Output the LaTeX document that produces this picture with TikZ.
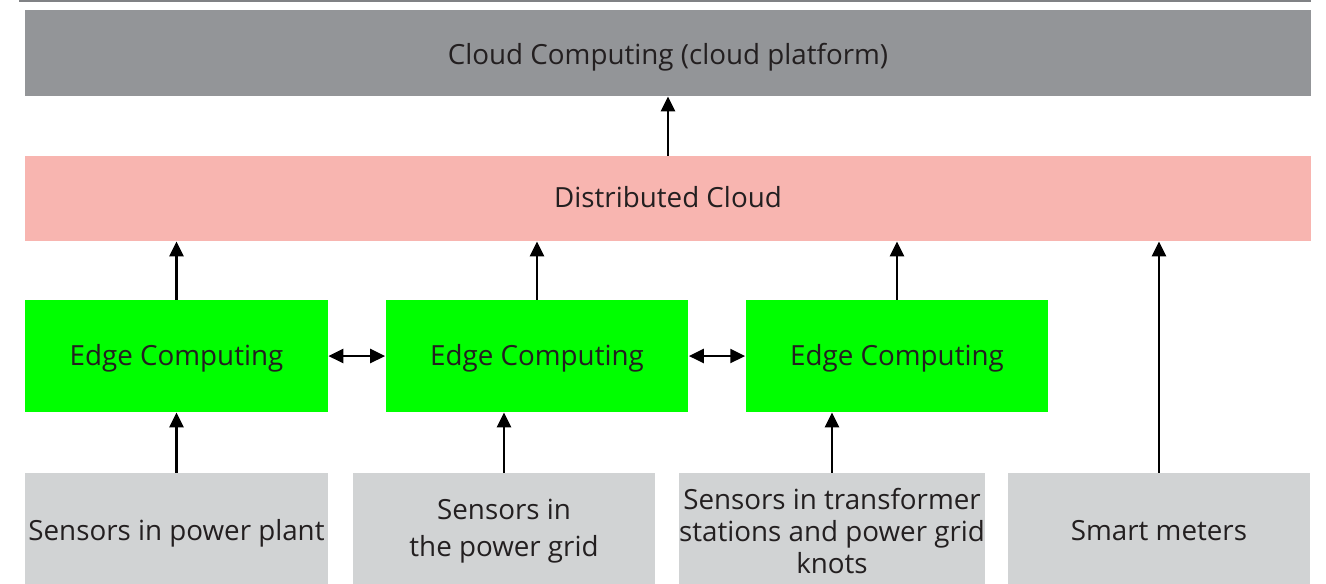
\documentclass[tikz,border=0pt]{standalone}
\usepackage{fontspec}
\setmainfont{Open Sans}
\usepackage{xcolor}
\usetikzlibrary{arrows.meta}

\definecolor{cloudgray}{HTML}{939598}
\definecolor{distpink}{HTML}{F8B5B0}
\definecolor{edgegreen}{HTML}{00FF00}
\definecolor{sensorgray}{HTML}{D1D3D4}
\definecolor{textdark}{HTML}{231F20}
\definecolor{rulegray}{HTML}{808285}

\begin{document}
\begin{tikzpicture}[x=0.02cm, y=-0.02cm,
    box/.style={inner sep=0pt, text=textdark, align=center,
        font=\fontsize{15.8}{18.4}\selectfont},
    oneline/.style={text height=1.04em, text depth=0pt},
    layer/.style={box, oneline, minimum width=25.72cm},
    edgebox/.style={box, oneline, fill=edgegreen, minimum width=6.06cm, minimum height=2.24cm},
    sensorbox/.style={box, fill=sensorgray, minimum width=6.06cm, minimum height=2.32cm},
    tip/.tip={Triangle[length=8.5pt,width=7.9pt]},
    uparrow/.style={-tip, line width=1.6pt},
    twoway/.style={tip-tip, line width=1.6pt}]
    \useasboundingbox (0,0) rectangle (1326,583);

    % Rule on top
    \draw[rulegray, line width=0.85pt] (19,1) -- (1311,1);

    % Upper layers
    \node[layer, fill=cloudgray, minimum height=1.72cm, text height=1.33em] (cloud) at (668,53) {Cloud Computing (cloud platform)};
    \node[layer, fill=distpink, minimum height=1.70cm] (dist) at (668,198.5) {Distributed Cloud};

    % Edge layer
    \node[edgebox] (edge1) at (176.5,356) {Edge Computing};
    \node[edgebox] (edge2) at (537,356) {Edge Computing};
    \node[edgebox] (edge3) at (897,356) {Edge Computing};

    % Sensors
    \node[sensorbox, oneline] (plant) at (176.5,531) {Sensors in power plant};
    \node[sensorbox] (grid) at (504,531) {Sensors in\\[2.6pt] the power grid};
    \node[sensorbox] (trafo) at (832,531) {Sensors in transformer\\ stations and power grid\\ knots};
    \node[sensorbox, oneline] (meters) at (1159,531) {Smart meters};

    % Arrows
    \draw[uparrow] (dist.north -| cloud.south) -- (cloud.south);
    \foreach \e in {edge1,edge2,edge3}
        \draw[uparrow] (\e.north) -- (\e.north |- dist.south);
    \foreach \s/\e in {plant/edge1, grid/edge2, trafo/edge3}
        \draw[uparrow] (\s.north) -- (\s.north |- \e.south);
    \draw[uparrow] (meters.north) -- (meters.north |- dist.south);
    \draw[twoway] (edge1.east) -- (edge2.west);
    \draw[twoway] (edge2.east) -- (edge3.west);
\end{tikzpicture}
\end{document}
